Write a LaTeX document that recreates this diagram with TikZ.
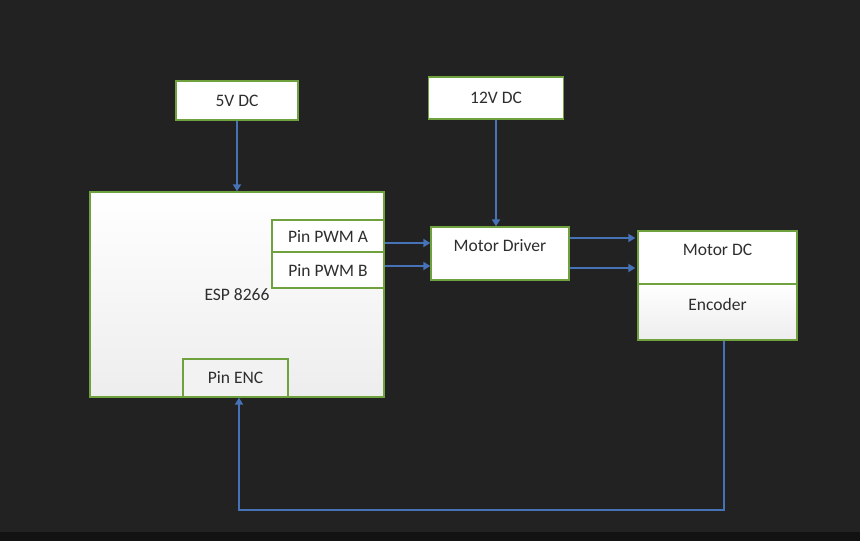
\documentclass[tikz,border=0pt]{standalone}
\usepackage{fontspec}
\setmainfont{Carlito}
\usetikzlibrary{arrows.meta}
\definecolor{bg}{HTML}{222222}
\definecolor{boxgreen}{HTML}{6FA23E}
\definecolor{arrblue}{HTML}{4673B8}
\definecolor{txtgray}{HTML}{2E2E2E}
\begin{document}
\begin{tikzpicture}[x=1pt, y=-1pt,
  box/.style = {draw=boxgreen, line width=1.3pt, fill=white, text=txtgray, inner sep=0pt, font=\fontsize{17.5}{20}\selectfont},
  graded/.style = {top color=white, bottom color=black!7},
  upper/.style = {text height=12pt, text depth=16pt},
  arr/.style = {draw=arrblue, line width=1.7pt, -{Triangle[width=8pt,length=7pt]}}]
\fill[bg] (0,0) rectangle (860,541);
\fill[black!93] (0,532) rectangle (860,541);
% power supplies
\node[box, minimum width=122pt, minimum height=39pt] (fivev) at (237,100.5) {5V DC};
\node[box, minimum width=135pt, minimum height=42pt] (twelvev) at (496,98) {12V DC};
% microcontroller with its pins
\node[box, graded, minimum width=294pt, minimum height=205pt] (esp) at (237,294.5) {ESP 8266};
\node[box, minimum width=112pt, minimum height=32pt] (pwma) at (328,236) {Pin PWM A};
\node[box, minimum width=112pt, minimum height=36pt] (pwmb) at (328,270) {Pin PWM B};
\node[box, fill=black!5, minimum width=105pt, minimum height=38pt] (pinenc) at (235.5,378) {Pin ENC};
% driver and motor
\node[box, upper, minimum width=138pt, minimum height=53pt] (driver) at (500,253.5) {Motor Driver};
\node[box, upper, minimum width=159pt, minimum height=53pt] (motor) at (717.5,257.5) {Motor DC};
\node[box, graded, upper, minimum width=159pt, minimum height=56pt] (encoder) at (717.5,312) {Encoder};
\coordinate (loop) at (480,510);
\draw[arr] (fivev.south) -- (esp.north);
\draw[arr] (twelvev.south) -- (twelvev.south |- driver.north);
\draw[arr] ([yshift=-7pt]pwma.east) -- ([yshift=-7pt]pwma.east -| driver.west);
\draw[arr] ([yshift=4pt]pwmb.east) -- ([yshift=4pt]pwmb.east -| driver.west);
\draw[arr] ([yshift=15.5pt]driver.east) -- ([yshift=15.5pt,xshift=-2pt]driver.east -| motor.west);
\draw[arr] ([yshift=-14.5pt]driver.east) -- ([yshift=-14.5pt,xshift=-2pt]driver.east -| motor.west);
\draw[arr] ([xshift=6.5pt]encoder.south) |- (loop) -| ([xshift=3.5pt]pinenc.south);
\end{tikzpicture}
\end{document}
